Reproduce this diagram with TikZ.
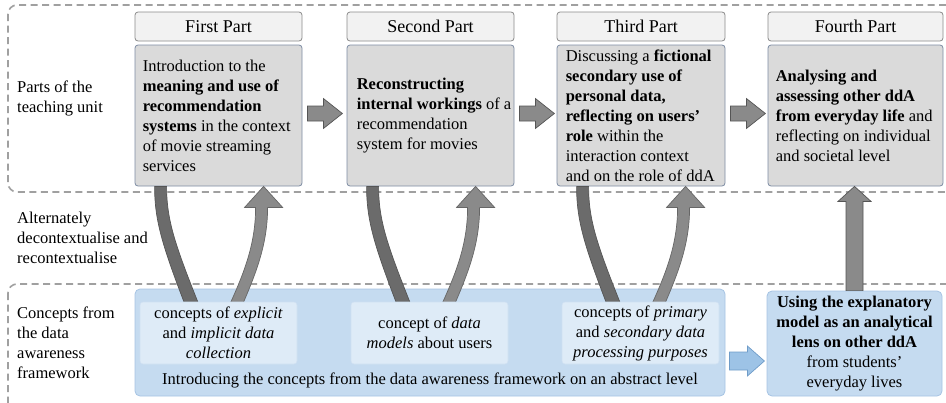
\documentclass[tikz,border=0pt]{standalone}
\usepackage{fontspec}
\setmainfont{Liberation Serif}
\usetikzlibrary{calc}

\definecolor{hdrfill}{HTML}{F2F2F2}
\definecolor{hdrline}{HTML}{8A8A8A}
\definecolor{partfill}{HTML}{DADADA}
\definecolor{partline}{HTML}{7D8CA3}
\definecolor{bluefill}{HTML}{C5DBF0}
\definecolor{blueline}{HTML}{A6C4E3}
\definecolor{innerfill}{HTML}{DEEBF7}
\definecolor{innerline}{HTML}{CFE0F2}
\definecolor{bluearrow}{HTML}{9DC3E6}
\definecolor{bluearrowline}{HTML}{6F9CC8}
\definecolor{darkband}{HTML}{6B6B6B}
\definecolor{darkbandline}{HTML}{555555}
\definecolor{lightband}{HTML}{8A8A8A}
\definecolor{lightbandline}{HTML}{666666}
\definecolor{frameline}{HTML}{A0A0A0}

\tikzset{
  txt/.style={font=\fontsize{16.5}{20}\selectfont},
  hdr/.style={font=\fontsize{18}{21}\selectfont, draw=hdrline, fill=hdrfill, rounded corners=3pt,
    minimum height=29pt, inner sep=0pt, line width=0.8pt},
  partbox/.style={draw=partline, fill=partfill, rounded corners=3pt,
    minimum height=141pt, inner sep=0pt, line width=0.8pt},
  parttext/.style={txt, align=left, anchor=west, inner sep=0pt},
  bigblue/.style={draw=blueline, fill=bluefill, rounded corners=5pt, line width=0.8pt},
  innerbox/.style={txt, draw=innerline, fill=innerfill, rounded corners=3pt,
    minimum width=157pt, minimum height=62pt, inner sep=0pt, align=center, line width=0.6pt},
  sidelabel/.style={txt, align=left, anchor=west, inner sep=0pt},
  frame/.style={draw=frameline, line width=1.6pt, dash pattern=on 7pt off 4.5pt, rounded corners=9pt},
  grayarrow/.style={fill=lightband, draw=darkbandline, line width=0.7pt},
  darkbandstyle/.style={fill=darkband, draw=darkbandline, line width=0.7pt},
  lightbandstyle/.style={fill=lightband, draw=lightbandline, line width=0.7pt},
  bluearrowstyle/.style={fill=bluearrow, draw=bluearrowline, line width=0.7pt},
}

\begin{document}
\begin{tikzpicture}[x=1pt, y=-1pt]
\useasboundingbox (0,0) rectangle (946,402);
\clip (0,0) rectangle (946,402);

% dashed frames of the two rows
\draw[frame] (8,5) rectangle (956,192);
\draw[frame] (8,284) rectangle (956,414);

% row labels
\node[sidelabel] (l1) at (17,98) {Parts of the\\teaching unit};
\node[sidelabel] (l2) at (17,238) {Alternately\\decontextualise and\\recontextualise};
\node[sidelabel] (l3) at (17,343) {Concepts from\\the data\\awareness\\framework};

% part headers
\node[hdr, minimum width=167pt] (h1) at (218.5,26.5) {First Part};
\node[hdr, minimum width=167pt] (h2) at (430.5,26.5) {Second Part};
\node[hdr, minimum width=168pt] (h3) at (641,26.5) {Third Part};
\node[hdr, minimum width=175pt] (h4) at (855.5,26.5) {Fourth Part};

% part contents: boxes, then their texts
\node[partbox, minimum width=167pt] (p1) at (218.5,115.5) {};
\node[partbox, minimum width=167pt] (p2) at (430.5,115.5) {};
\node[partbox, minimum width=168pt] (p3) at (641,115.5) {};
\node[partbox, minimum width=175pt] (p4) at (855.5,115.5) {};

\node[parttext] (t1) at ($(p1.west)+(8,0)$)
  {Introduction to the\\\textbf{meaning and use of}\\\textbf{recommendation}\\\textbf{systems} in the context\\of movie streaming\\services};
\node[parttext] (t2) at ($(p2.west)+(10,0)$)
  {\textbf{Reconstructing}\\\textbf{internal workings} of a\\recommendation\\system for movies};
\node[parttext] (t3) at ($(p3.west)+(9,0)$)
  {Discussing a \textbf{fictional}\\\textbf{secondary use of}\\\textbf{personal data,}\\\textbf{reflecting on users'}\\\textbf{role} within the\\interaction context\\and on the role of ddA};
\node[parttext] (t4) at ($(p4.west)+(8,0)$)
  {\textbf{Analysing and}\\\textbf{assessing other ddA}\\\textbf{from everyday life} and\\reflecting on individual\\and societal level};

% block arrows between the parts
\foreach \a/\b in {p1/p2, p2/p3, p3/p4} {
  \begin{scope}[shift={($(\a.east)+(5,-2)$)}]
    \draw[grayarrow] (0,-7.5) -- (16,-7.5) -- (16,-15) -- (35,0) -- (16,15)
      -- (16,7.5) -- (0,7.5) -- cycle;
  \end{scope}
}

% concept area
\node[bigblue, minimum width=590pt, minimum height=107pt] (cbig) at (430,342.5) {};
\node[txt, inner sep=0pt] (ctext) at (430,380)
  {Introducing the concepts from the data awareness framework on an abstract level};

% right box
\node[bigblue, txt, minimum width=175pt, minimum height=105pt, align=center, inner sep=0pt]
  (rbox) at (854.5,343.5)
  {\textbf{Using the explanatory}\\\textbf{model as an analytical}\\\textbf{lens on other ddA}\\from students'\\everyday lives};

% curved arrows: down into a concept, back up into the part
\foreach \p in {p1, p2, p3} {
  \begin{scope}[shift={(\p.south west)}]
    \draw[darkbandstyle] (20,0) .. controls (20,35) and (28,60) .. (53,125)
      -- (67,125) .. controls (41,60) and (32,35) .. (32,0) -- cycle;
    \draw[lightbandstyle] (92,125) .. controls (108,90) and (121,60) .. (121,21)
      -- (110,21) -- (129,0) -- (148,21) -- (133,21)
      .. controls (133,60) and (120,90) .. (105,125) -- cycle;
  \end{scope}
}

% concept boxes on top of the band ends
\node[innerbox] (i1) at (218.5,333)
  {concepts of \textit{explicit}\\and \textit{implicit data}\\\textit{collection}};
\node[innerbox] (i2) at (429.5,333)
  {concept of \textit{data}\\\textit{models} about users};
\node[innerbox] (i3) at (640.5,333)
  {concepts of \textit{primary}\\and \textit{secondary data}\\\textit{processing purposes}};

% blue arrow from concepts to application
\begin{scope}[shift={($(cbig.east)+(4,18.5)$)}]
  \draw[bluearrowstyle] (0,-9) -- (18,-9) -- (18,-15) -- (35,0) -- (18,15)
    -- (18,9) -- (0,9) -- cycle;
\end{scope}

% vertical arrow from the right box up to the fourth part
\draw[grayarrow] ($(rbox.north)+(-8.5,0)$) -- ($(p4.south)+(-9.5,15)$)
  -- ($(p4.south)+(-17.5,15)$) -- ($(p4.south)+(-1,0)$)
  -- ($(p4.south)+(15.5,15)$) -- ($(p4.south)+(7.5,15)$)
  -- ($(rbox.north)+(8.5,0)$) -- cycle;
\end{tikzpicture}
\end{document}
